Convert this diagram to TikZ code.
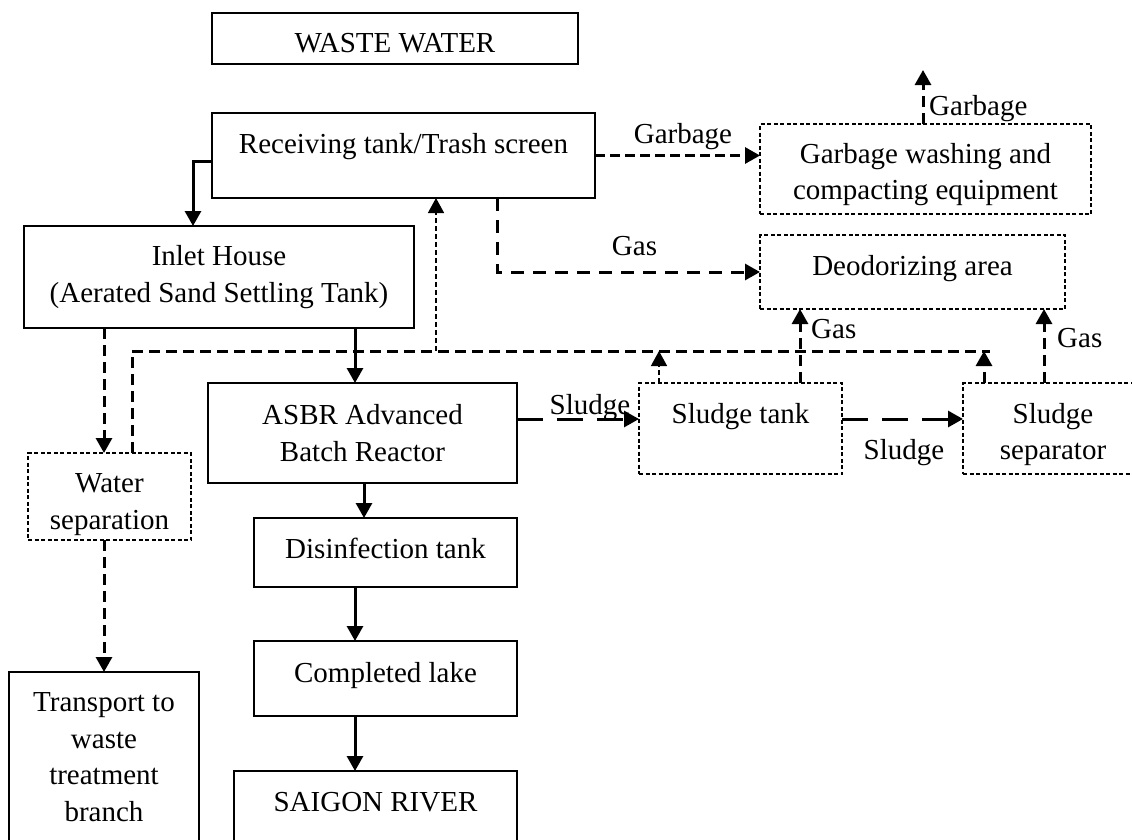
\documentclass[tikz,border=0pt]{standalone}
\usepackage{fontspec}
\setmainfont{Liberation Serif}
\usetikzlibrary{arrows.meta}
\begin{document}
\begin{tikzpicture}[x=1pt,y=-1pt,
  font=\fontsize{29}{36.5}\selectfont,
  box/.style={draw, line width=2pt, inner sep=0pt, outer sep=0pt},
  mbox/.style={box, align=center},
  dbox/.style={draw, line width=1.4pt, dash pattern=on 4pt off 2.5pt, inner sep=0pt, outer sep=0pt, align=center},
  ar/.style={-{Triangle[length=15pt,width=16pt]}, line width=3pt},
  tdash/.style={line width=3pt, dash pattern=on 11pt off 6pt},
  gdash/.style={line width=3pt, dash pattern=on 10pt off 5pt},
  gasdash/.style={line width=3pt, dash pattern=on 13pt off 9pt},
  sdash/.style={line width=3pt, dash pattern=on 26pt off 14pt},
  thind/.style={line width=1.5pt, dash pattern=on 5pt off 3pt},
  lbl/.style={anchor=base, inner sep=0pt}]
\useasboundingbox (0,0) rectangle (1132,839);
\fill[white] (0,0) rectangle (1132,839);
\clip (0,0) rectangle (1132,839);
% boxes
\node[box, minimum width=366pt, minimum height=51pt, text height=28pt, text depth=0pt] (ww) at (395,38.5) {WASTE WATER};
\node[box, minimum width=383pt, minimum height=85pt, text height=20pt, text depth=25pt] (rt) at (403.5,155.5) {Receiving tank/Trash screen};
\node[dbox, minimum width=331pt, minimum height=90pt] (gw) at (925.5,169) {\rule{0pt}{31pt}Garbage washing and\\compacting equipment};
\node[dbox, minimum width=305pt, minimum height=74pt, text height=20pt, text depth=14pt] (dz) at (912.5,272) {Deodorizing area};
\node[mbox, minimum width=390pt, minimum height=102pt] (inl) at (219,277) {Inlet House\\(Aerated Sand Settling Tank)};
\node[mbox, minimum width=309pt, minimum height=100pt] (asbr) at (362.5,433) {ASBR Advanced\\Batch Reactor};
\node[dbox, minimum width=163pt, minimum height=87pt] (ws) at (109.5,496.5) {\rule{0pt}{35pt}Water\\separation};
\node[dbox, minimum width=203pt, minimum height=91pt, text height=20pt, text depth=31pt] (st) at (740.5,428.5) {Sludge tank};
\node[dbox, minimum width=180pt, minimum height=91pt] (sep) at (1053,428.5) {\rule{0pt}{32pt}Sludge\\separator};
\node[box, minimum width=263pt, minimum height=69pt, text height=20pt, text depth=9pt] (dis) at (385.5,552.5) {Disinfection tank};
\node[box, minimum width=263pt, minimum height=75pt, text height=20pt, text depth=13pt] (lake) at (385.5,678.5) {Completed lake};
\node[box, minimum width=283pt, minimum height=91pt, text height=20pt, text depth=30pt] (sai) at (375.5,816.5) {SAIGON RIVER};
\node[mbox, minimum width=190pt, minimum height=170pt] (tr) at (104,757) {Transport to\\waste\\treatment\\branch};
% helper coordinates
\coordinate (x104) at (104,0);
\coordinate (x132) at (132,0);
\coordinate (x193) at (193,0);
\coordinate (x355) at (355,0);
\coordinate (x364) at (364,0);
\coordinate (x436) at (436,0);
\coordinate (x497) at (497,0);
\coordinate (x659) at (659,0);
\coordinate (x800) at (800,0);
\coordinate (x923) at (923,0);
\coordinate (x984) at (984,0);
\coordinate (x1044) at (1044,0);
\coordinate (y161) at (0,161);
\coordinate (y419) at (0,419);
\coordinate (gtop) at (923,70);
\coordinate (rend) at (990,351);
% labels
\node[lbl] (lg1) at (683,143) {Garbage};
\node[lbl, anchor=base west] (lg2) at (929,115) {Garbage};
\node[lbl] (lgas1) at (634.5,255) {Gas};
\node[lbl, anchor=base west] (lgas2) at (811,338) {Gas};
\node[lbl, anchor=base west] (lgas3) at (1057,347) {Gas};
\node[lbl] (ls1) at (590,414) {Sludge};
\node[lbl] (ls2) at (904,459) {Sludge};
% connectors
\draw[ar] (rt.west |- y161) -| (inl.north -| x193);
\draw[ar, gdash] (rt.east) -- (rt.east -| gw.west);
\draw[ar, tdash] (gw.north -| x923) -- (gtop);
\draw[ar, gasdash] (rt.south -| x497) |- (dz.west);
\draw[ar, tdash] (inl.south -| x104) -- (ws.north -| x104);
\draw[ar] (inl.south -| x355) -- (asbr.north -| x355);
\draw[tdash] (ws.north -| x132) |- (rend);
\draw[ar, thind] (x436 |- rend) -- (rt.south -| x436);
\draw[ar, thind] (st.north -| x659) -- (x659 |- rend);
\draw[ar, tdash] (sep.north -| x984) -- (x984 |- rend);
\draw[ar, sdash] (asbr.east |- y419) -- (st.west |- y419);
\draw[ar, sdash] (st.east |- y419) -- (sep.west |- y419);
\draw[ar, tdash] (st.north -| x800) -- (dz.south -| x800);
\draw[ar, tdash] (sep.north -| x1044) -- (dz.south -| x1044);
\draw[ar] (asbr.south -| x364) -- (dis.north -| x364);
\draw[ar] (dis.south -| x355) -- (lake.north -| x355);
\draw[ar] (lake.south -| x355) -- (sai.north -| x355);
\draw[ar, tdash] (ws.south -| x104) -- (tr.north -| x104);
\end{tikzpicture}
\end{document}
